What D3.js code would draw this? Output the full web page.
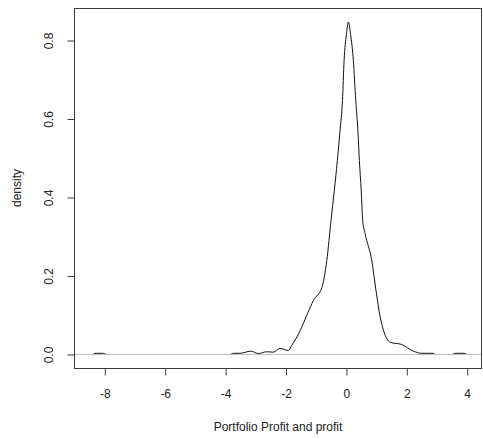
<!DOCTYPE html>
<html>
<head>
<meta charset="utf-8">
<script src="https://cdn.jsdelivr.net/npm/d3@7"></script>
<style>
  body { margin: 0; background: #fff; }
  svg text { font-family: "Liberation Sans", Arial, sans-serif; fill: #222; }
</style>
</head>
<body>
<svg id="chart" width="483" height="439"></svg>
<script>
// density estimate (x = profit, y = density)
var profitX = [-8.85, -8.4, -8.32, -8.05, -7.95, -3.85, -3.74, -3.52, -3.17, -2.91, -2.64, -2.42, -2.20, -1.92, -1.81,
  -1.53, -1.29, -1.09, -0.81, -0.65, -0.51, -0.40, -0.30, -0.21, -0.13, -0.076, 0.0, 0.066, 0.14,
  0.23, 0.31, 0.38, 0.43, 0.49, 0.54, 0.62, 0.84, 0.98, 1.12, 1.23, 1.45, 1.83, 2.22, 2.50, 2.88, 2.95,
  3.5, 3.60, 3.90, 4.0, 4.35];
var densityY = [0, 0, 0.003, 0.003, 0, 0, 0.003, 0.003, 0.0084, 0.0025, 0.0069, 0.0059, 0.0153, 0.0102, 0.0229,
  0.061, 0.104, 0.138, 0.171, 0.239, 0.341, 0.418, 0.494, 0.571, 0.647, 0.749, 0.815, 0.847, 0.815,
  0.749, 0.647, 0.571, 0.494, 0.418, 0.341, 0.308, 0.239, 0.163, 0.095, 0.061, 0.031, 0.0255, 0.0084, 0.003, 0.003, 0,
  0, 0.003, 0.003, 0, 0];
var xTicks = [-8, -6, -4, -2, 0, 2, 4];
var yTicks = [0.0, 0.2, 0.4, 0.6, 0.8];

var svg = d3.select("#chart");
var plotL = 74, plotR = 482, plotT = 8, plotB = 368;

var x = d3.scaleLinear().domain([-9.02, 4.49]).range([plotL, plotR]);
// range shifted half a pixel so that y(0) falls on a pixel centre
var y = d3.scaleLinear().domain([-0.0357, 0.8815]).range([plotB + 0.5, plotT + 0.5]);

var pts = profitX.map(function(d, i){ return [d, densityY[i]]; });

// curve first, zero line on top (like R's plot.density)
svg.append("path")
  .datum(pts)
  .attr("fill", "none")
  .attr("stroke", "#111")
  .attr("stroke-width", 1)
  .attr("d", d3.line().x(function(d){ return x(d[0]); }).y(function(d){ return y(d[1]); }).curve(d3.curveMonotoneX));

var y0 = Math.floor(y(0)) + 0.5;
svg.append("line")
  .attr("x1", plotL).attr("x2", plotR)
  .attr("y1", y0).attr("y2", y0)
  .attr("stroke", "#bebebe").attr("stroke-width", 1.2);

// box
svg.append("rect")
  .attr("x", plotL + 0.5).attr("y", plotT + 0.5)
  .attr("width", plotR - plotL - 1).attr("height", plotB - plotT)
  .attr("fill", "none").attr("stroke", "#3c3c3c").attr("stroke-width", 1);

var xAxis = svg.append("g")
  .attr("transform", "translate(0," + (plotB + 0.5) + ")")
  .call(d3.axisBottom(x).tickValues(xTicks).tickSize(7).tickPadding(14).tickFormat(function(d){ return String(d); }));
xAxis.select(".domain").remove();
xAxis.attr("font-size", 12).attr("font-family", null);
xAxis.selectAll("line").attr("stroke", "#3c3c3c");
xAxis.selectAll("text").attr("fill", "#222");

var yAxis = svg.append("g")
  .attr("transform", "translate(" + (plotL + 0.5) + ",0)")
  .call(d3.axisLeft(y).tickValues(yTicks).tickSize(7).tickFormat(d3.format(".1f")));
yAxis.select(".domain").remove();
yAxis.attr("font-size", 12).attr("font-family", null);
yAxis.selectAll("line").attr("stroke", "#3c3c3c");
yAxis.selectAll(".tick text")
  .attr("fill", "#222")
  .attr("x", 0).attr("y", 0).attr("dy", null)
  .attr("text-anchor", "middle")
  .attr("transform", "translate(-22,0) rotate(-90)");

svg.append("text")
  .attr("x", (plotL + plotR) / 2).attr("y", 431)
  .attr("text-anchor", "middle").attr("font-size", 12)
  .text("Portfolio Profit and profit");

svg.append("text")
  .attr("transform", "translate(21," + ((plotT + plotB) / 2) + ") rotate(-90)")
  .attr("text-anchor", "middle").attr("font-size", 12)
  .text("density");
</script>
</body>
</html>
